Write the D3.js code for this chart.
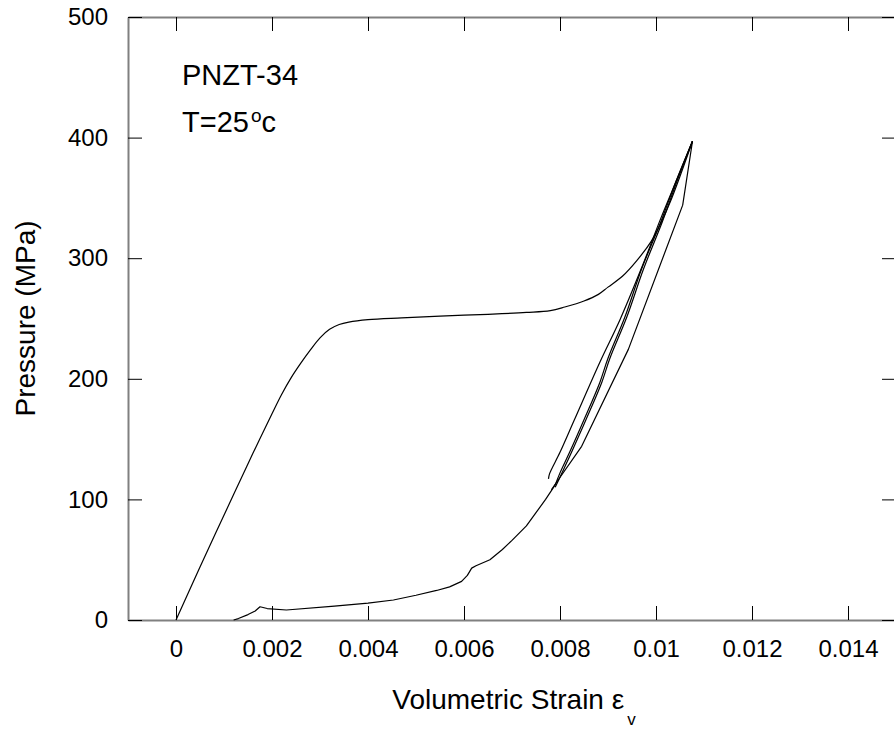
<!DOCTYPE html>
<html>
<head>
<meta charset="utf-8">
<script src="https://cdn.jsdelivr.net/npm/d3@7"></script>
<style>
  html, body { margin: 0; padding: 0; background: #fff; }
  svg { display: block; }
  text { font-family: Arial, "Liberation Sans", sans-serif; fill: #000; }
</style>
</head>
<body>
<svg id="chart" width="894" height="731"></svg>
<script>
// ---------- data ----------
const xTicks = [0, 0.002, 0.004, 0.006, 0.008, 0.01, 0.012, 0.014];
const xTickLabels = ["0", "0.002", "0.004", "0.006", "0.008", "0.01", "0.012", "0.014"];
const yTicks = [0, 100, 200, 300, 400, 500];
const yTickLabels = ["0", "100", "200", "300", "400", "500"];

// first loading to 400 MPa
const loadStrain   = [0, 0.0005, 0.0012, 0.0016, 0.002, 0.0022, 0.0024, 0.0026, 0.0028, 0.003, 0.0032, 0.0034, 0.0036, 0.004, 0.0047, 0.0055, 0.0065, 0.0073, 0.0078, 0.0081, 0.0085, 0.0088, 0.009, 0.0093, 0.0096, 0.0099, 0.0101, 0.0103, 0.0105, 0.01076];
const loadPressure = [0, 44, 104, 138, 171, 187, 201, 213, 224, 234, 241, 245, 247, 249, 250.5, 252, 253.5, 255, 256.5, 259.5, 264.5, 270, 276, 285, 298, 314, 329, 347, 368, 397];

// reloading branch (upper-left line of the loop)
const reloadStrain   = [0.00776, 0.00778, 0.008, 0.0083, 0.008833, 0.00925, 0.0097, 0.0101, 0.0104, 0.01076];
const reloadPressure = [117, 121, 139, 166, 214, 249, 292, 333, 362, 397];

// middle branch (two nearly coincident traces)
const midAStrain   = [0.01076, 0.0104, 0.0101, 0.0097, 0.00935, 0.009, 0.00883, 0.0085, 0.0082, 0.008, 0.0079];
const midAPressure = [397, 362, 330, 291, 251, 217, 197, 166, 139, 122, 112];
const midBStrain   = [0.01076, 0.01042, 0.01013, 0.00974, 0.00939, 0.00904, 0.00887, 0.00854, 0.00824, 0.00803, 0.0079];
const midBPressure = [397, 362, 330, 291, 251, 217, 197, 166, 139, 121, 110];

// outer (sparse) unloading branch
const outerStrain   = [0.01076, 0.010556, 0.009424, 0.008451, 0.00782];
const outerPressure = [397, 344, 224.4, 144, 108];

// final unloading to zero pressure
const lowerStrain   = [0.0079, 0.0077, 0.0075, 0.0073, 0.0070, 0.0068, 0.00654, 0.00625, 0.00616, 0.00607, 0.00595, 0.0057, 0.00543, 0.005, 0.00453, 0.004, 0.0033, 0.0023, 0.0019, 0.00175, 0.00165, 0.0015, 0.0013, 0.0012];
const lowerPressure = [112, 100, 89, 78, 66, 58.5, 50, 45, 43, 37, 32, 27.5, 24.5, 20.5, 16.6, 14, 11.5, 8.3, 9.5, 11, 7.5, 4.5, 1.2, 0];

const annotations = ["PNZT-34", "T=25", "o", "c"];
const xTitle = "Volumetric Strain \u03b5";
const xTitleSub = "v";
const yTitle = "Pressure (MPa)";

// ---------- chart ----------
const svg = d3.select("#chart");
const x = d3.scaleLinear().domain([-0.001, 0.015]).range([128, 896]);
const y = d3.scaleLinear().domain([0, 500]).range([620, 17]);

function styleAxis(g) {
  g.select(".domain").attr("stroke", "#808080").attr("stroke-width", 2);
  g.selectAll(".tick line").attr("stroke", "#000").attr("stroke-width", 1);
  g.selectAll(".tick text").style("font-size", "24px").attr("fill", "#000")
    .style("font-family", "Arial, 'Liberation Sans', sans-serif");
}

svg.append("g").attr("transform", "translate(0,620)")
  .call(d3.axisBottom(x).tickValues(xTicks).tickFormat((d, i) => xTickLabels[i])
        .tickSizeInner(-14).tickSizeOuter(0).tickPadding(20))
  .call(styleAxis);

svg.append("g").attr("transform", "translate(0,17)")
  .call(d3.axisTop(x).tickValues(xTicks).tickFormat("")
        .tickSizeInner(-14).tickSizeOuter(0))
  .call(styleAxis);

svg.append("g").attr("transform", "translate(128,0)")
  .call(d3.axisLeft(y).tickValues(yTicks).tickFormat((d, i) => yTickLabels[i])
        .tickSizeInner(-14).tickSizeOuter(0).tickPadding(20))
  .call(styleAxis);

svg.append("g").attr("transform", "translate(896,0)")
  .call(d3.axisRight(y).tickValues(yTicks).tickFormat("")
        .tickSizeInner(-14).tickSizeOuter(0))
  .call(styleAxis);

// curves
const line = d3.line().x(d => x(d[0])).y(d => y(d[1]));
const smooth = d3.line().x(d => x(d[0])).y(d => y(d[1])).curve(d3.curveCatmullRom.alpha(0.5));
const zip = (a, b) => a.map((v, i) => [v, b[i]]);

const series = [
  { pts: zip(loadStrain, loadPressure), gen: smooth },
  { pts: zip(reloadStrain, reloadPressure), gen: smooth },
  { pts: zip(midAStrain, midAPressure), gen: smooth },
  { pts: zip(midBStrain, midBPressure), gen: smooth },
  { pts: zip(outerStrain, outerPressure), gen: line },
  { pts: zip(lowerStrain, lowerPressure), gen: line }
];

svg.append("g").selectAll("path").data(series).join("path")
  .attr("d", s => s.gen(s.pts))
  .attr("fill", "none")
  .attr("stroke", "#000")
  .attr("stroke-width", 1.2)
  .attr("stroke-linejoin", "round");

// annotations
svg.append("text").attr("x", 182).attr("y", 85).style("font-size", "29px").text(annotations[0]);
const t2 = svg.append("text").attr("x", 182).attr("y", 132).style("font-size", "29px");
t2.append("tspan").text(annotations[1]);
t2.append("tspan").attr("dy", -10).attr("dx", 2).style("font-size", "19px").text(annotations[2]);
t2.append("tspan").attr("dy", 10).style("font-size", "29px").text(annotations[3]);

// axis titles
const xt = svg.append("text").attr("x", 514).attr("y", 709).attr("text-anchor", "middle").style("font-size", "28px");
xt.append("tspan").text(xTitle);
xt.append("tspan").attr("dy", 16).attr("dx", 3).style("font-size", "17px").text(xTitleSub);

svg.append("text").attr("transform", "translate(35,318.5) rotate(-90)")
  .attr("text-anchor", "middle").style("font-size", "28px").text(yTitle);
</script>
</body>
</html>
